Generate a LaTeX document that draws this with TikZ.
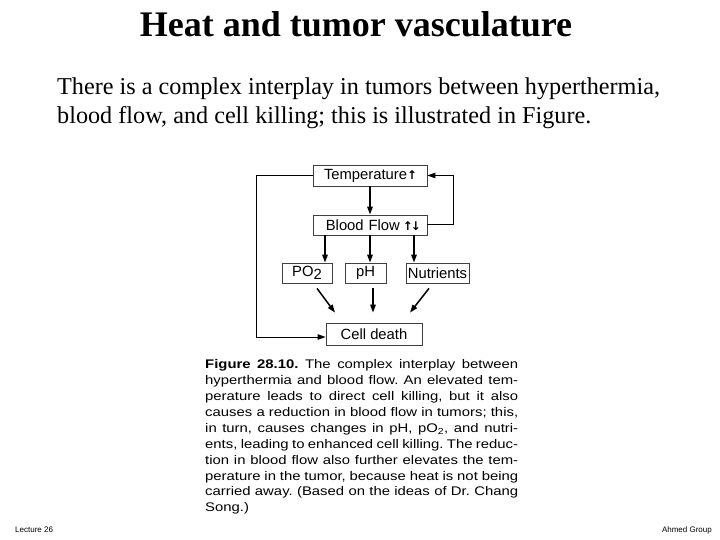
\documentclass[tikz,border=0pt]{standalone}
\usepackage{fontspec}
\setmainfont{Liberation Serif}
\setsansfont{Liberation Sans}
\newfontfamily\symfont{DejaVu Sans}
\newfontfamily\capfont[FakeStretch=1.19]{Liberation Sans}
\usetikzlibrary{arrows.meta,calc}
\begin{document}
\begin{tikzpicture}[x=1pt,y=-1pt,
  box/.style={draw=black!75,line width=0.8pt,fill=white,inner sep=0pt,
    minimum height=20pt,font=\sffamily\fontsize{14.8}{15}\selectfont},
  arr/.style={line width=1.5pt,-{Triangle[length=8pt,width=5.5pt]}},
  loop/.style={line width=1pt,-{Triangle[length=8pt,width=5.5pt]}}]
\useasboundingbox (0,0) rectangle (720,540);
% title and body text
\node[anchor=base,font=\bfseries\fontsize{36}{40}\selectfont] (title) at (356,37) {Heat and tumor vasculature};
\node[anchor=base west,font=\fontsize{24.2}{29}\selectfont,inner sep=0pt] (l1) at (57,95) {There is a complex interplay in tumors between hyperthermia,};
\node[anchor=base west,font=\fontsize{24.2}{29}\selectfont,inner sep=0pt] (l2) at (57,124) {blood flow, and cell killing; this is illustrated in Figure.};
% diagram boxes
\node[box,minimum width=114pt,minimum height=21pt,text width=92pt,align=right] (temp) at (370,175.5) {Temperature{\symfont\fontsize{12}{12}\selectfont\bfseries↑}};
\node[box,minimum width=114pt,text width=102pt,align=right] (blood) at (370,225) {Blood Flow\hspace{3pt}{\symfont\fontsize{12}{12}\selectfont\bfseries↑\hspace{-2pt}↓}};
\node[box,minimum width=50pt] (po2) at (307,273) {PO\raisebox{-3.5pt}{2}};
\node[box,minimum width=41pt] (ph) at (365.5,273) {pH};
\node[box,minimum width=63pt] (nut) at (437.5,273) {Nutrients};
\node[box,minimum width=96pt,minimum height=22pt] (cell) at (374,334) {Cell death};
% connectors
\draw[arr] (temp.south) -- (blood.north);
\draw[arr] (blood.south -| 325,0) -- (po2.north -| 325,0);
\draw[arr] (blood.south -| 370,0) -- (ph.north -| 370,0);
\draw[arr] (blood.south -| 414,0) -- (nut.north -| 414,0);
\draw[arr] ($(po2.south)+(10,5)$) -- ($(cell.north)+(-39,-10)$);
\draw[arr] ($(ph.south)+(7.5,5)$) -- ($(cell.north)+(-1,-10)$);
\draw[arr] ($(nut.south)+(-8.5,5)$) -- ($(cell.north)+(36,-10)$);
\coordinate (lc) at (256,337);
\coordinate (rc) at (453,225);
\draw[loop] (temp.west) -| (lc) -- (lc -| cell.west);
\draw[loop] (blood.east) -- (rc) |- (temp.east);
% caption
\node[anchor=north west,inner sep=0pt,text width=313pt,align=justify,
  font=\capfont] (cap) at (205,359.5) {\fontsize{12.5}{15.9}\selectfont\frenchspacing
\textbf{Figure 28.10.} The complex interplay between\linebreak
hyperthermia and blood flow. An elevated tem-\linebreak
perature leads to direct cell killing, but it also\linebreak
causes a reduction in blood flow in tumors; this,\linebreak
in turn, causes changes in pH, pO\textsubscript{2}, and nutri-\linebreak
ents, leading to enhanced cell killing. The reduc-\linebreak
tion in blood flow also further elevates the tem-\linebreak
perature in the tumor, because heat is not being\linebreak
carried away. (Based on the ideas of Dr. Chang\linebreak
Song.)\par};
% footer
\node[anchor=base west,inner sep=0pt,font=\sffamily\fontsize{8}{9}\selectfont] (lec) at (15,532) {Lecture 26};
\node[anchor=base east,inner sep=0pt,font=\sffamily\fontsize{8}{9}\selectfont] (grp) at (712,532) {Ahmed Group};
\end{tikzpicture}
\end{document}
